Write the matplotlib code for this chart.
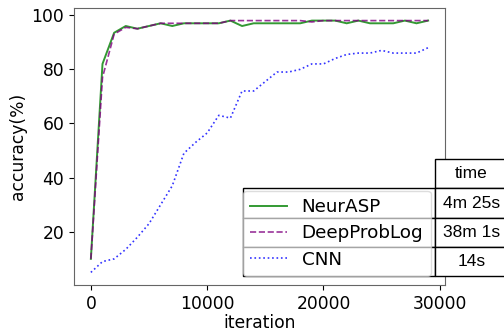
import matplotlib
matplotlib.use('Agg')
import matplotlib.pyplot as plt
from matplotlib.table import Table

# data (one point every 1000 iterations)
iterations = list(range(0, 30000, 1000))
neurasp = [10, 82, 93.5, 96, 95, 96, 97, 96, 97, 97,
           97, 97, 98, 96, 97, 97, 97, 97, 97, 98,
           98, 98, 97, 98, 97, 97, 97, 98, 97, 98]
deepproblog = [10, 77, 93, 95.5, 95, 96, 97, 97, 97, 97,
               97, 97, 98, 98, 98, 98, 98, 98, 98, 97.5,
               98, 98, 98, 98, 98, 98, 98, 98, 98, 98]
cnn = [5, 9, 10, 13.5, 18, 23, 30, 37, 49, 53,
       56.5, 63, 62, 72, 72, 75.5, 79, 79, 80, 82,
       82, 84, 85.5, 86, 86, 87, 86, 86, 86, 88]

names = ['NeurASP', 'DeepProbLog', 'CNN']
times = ['4m 25s', '38m 1s', '14s']

fig = plt.figure(figsize=(5.04, 3.35), dpi=100)
ax = fig.add_axes([74 / 504, 1 - 285 / 335, 371 / 504, 277 / 335])

ax.plot(iterations, neurasp, color='green', alpha=0.8, lw=1.4, label=names[0])
ax.plot(iterations, deepproblog, color='purple', alpha=0.8, lw=1.2,
        linestyle='--', label=names[1])
ax.plot(iterations, cnn, color='blue', alpha=0.8, lw=1.2,
        linestyle=':', label=names[2])

ax.set_xticks([0, 10000, 20000, 30000])
ax.set_yticks([20, 40, 60, 80, 100])
ax.tick_params(labelsize=12.3, length=3.5)
ax.set_xlabel('iteration', fontsize=12.3, labelpad=1)
ax.set_ylabel('accuracy(%)', fontsize=12.3, labelpad=3)
for s in ax.spines.values():
    s.set_color('0.4')
    s.set_linewidth(0.8)

# time table, partly outside the axes on the right
tbl = Table(ax, bbox=[0.4555, 0.0325, 0.7145, 0.4213])
lab_w, col_w, h = 192, 73, 1
tbl.add_cell(0, 1, width=col_w, height=h, text='time', loc='center')
for i, t in enumerate(times):
    tbl.add_cell(i + 1, 0, width=lab_w, height=h, text='', loc='center')
    tbl.add_cell(i + 1, 1, width=col_w, height=h, text=t, loc='center')
tbl.auto_set_font_size(False)
tbl.set_fontsize(12.5)
for cell in tbl.get_celld().values():
    cell.get_text().set_fontfamily('Liberation Sans')
    cell.set_linewidth(1.0)
tbl.set_zorder(3)
tbl.set_clip_on(False)
ax.add_table(tbl)

leg = ax.legend(loc='lower left', bbox_to_anchor=(0.4555, 0.0325),
                fontsize=13.2, labelspacing=0.45, borderaxespad=0,
                framealpha=0.65)
leg.set_zorder(5)

fig.savefig('out.png', dpi=100)
